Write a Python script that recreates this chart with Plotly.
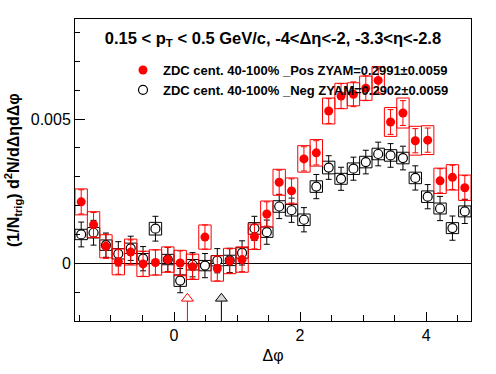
import numpy as np
import plotly.graph_objects as go

# ---- data (values in units of 1e-3) ----
n_bins = 32
dphi_lo, dphi_hi = -np.pi / 2, 3 * np.pi / 2
dphi = dphi_lo + (np.arange(n_bins) + 0.5) * (dphi_hi - dphi_lo) / n_bins
bin_width = (dphi_hi - dphi_lo) / n_bins

pos_vals = [2.13, 1.34, 0.59, 0.05, 0.39, -0.02, 0.03, 0.13, 0.01, -0.12, 0.91, -0.18,
            0.08, 0.13, 0.92, 1.71, 2.81, 2.51, 3.62, 3.83, 5.28, 5.80, 5.86, 6.07,
            6.34, 4.90, 5.21, 4.25, 4.27, 2.86, 2.98, 2.62]
pos_stat = [0.42, 0.42, 0.42, 0.43, 0.42, 0.43, 0.43, 0.42, 0.42, 0.42, 0.42, 0.43,
            0.42, 0.42, 0.42, 0.42, 0.42, 0.42, 0.42, 0.42, 0.43, 0.43, 0.43, 0.43,
            0.43, 0.43, 0.43, 0.42, 0.42, 0.42, 0.42, 0.42]
pos_sys = [0.45, 0.45, 0.40, 0.45, 0.45, 0.44, 0.44, 0.44, 0.44, 0.44, 0.42, 0.44,
           0.44, 0.44, 0.44, 0.45, 0.45, 0.45, 0.46, 0.46, 0.45, 0.44, 0.40, 0.42,
           0.48, 0.50, 0.52, 0.50, 0.50, 0.44, 0.44, 0.44]

neg_vals = [1.00, 1.06, 0.63, 0.33, 0.52, 0.16, 1.20, 0.13, -0.60, -0.05, -0.08, 0.09,
            0.10, 0.36, 1.21, 1.08, 1.97, 1.84, 1.51, 2.66, 3.32, 2.93, 3.28, 3.51,
            3.79, 3.74, 3.65, 2.96, 2.31, 1.90, 1.22, 1.80]
neg_stat = [0.43, 0.43, 0.42, 0.42, 0.42, 0.42, 0.43, 0.42, 0.42, 0.42, 0.42, 0.42,
            0.42, 0.42, 0.42, 0.42, 0.42, 0.42, 0.42, 0.42, 0.41, 0.40, 0.40, 0.41,
            0.41, 0.41, 0.41, 0.42, 0.42, 0.42, 0.42, 0.42]
neg_sys = [0.18, 0.18, 0.18, 0.18, 0.18, 0.18, 0.22, 0.18, 0.20, 0.18, 0.18, 0.18,
           0.18, 0.18, 0.20, 0.18, 0.20, 0.20, 0.20, 0.20, 0.22, 0.19, 0.20, 0.20,
           0.20, 0.20, 0.20, 0.20, 0.20, 0.19, 0.19, 0.19]

zyam_x = [0.213, 0.752]          # ZYAM minimum positions (arrows)
arrow_colors = ["red", "black"]
arrow_fills = ["white", "#d9d9d9"]
arrow_y_center = -1.22           # arrow head (1e-3)
arrow_y_base = -1.32

pos_name = "ZDC cent. 40-100% _Pos ZYAM=0.2991\u00b10.0059"
neg_name = "ZDC cent. 40-100% _Neg ZYAM=0.2902\u00b10.0059"

y_tickvals = [0, 0.005]
y_ticktext = ["0", "0.005"]

scale = 1e-3
pv = np.array(pos_vals) * scale
ps = np.array(pos_stat) * scale
psy = np.array(pos_sys) * scale
nv = np.array(neg_vals) * scale
ns = np.array(neg_stat) * scale
nsy = np.array(neg_sys) * scale

FONT = "Liberation Sans, Arial, Helvetica, sans-serif"
W, H = 496, 374


def box_path(centers, vals, sys, width):
    xs, ys = [], []
    for c, v, s in zip(centers, vals, sys):
        x0, x1 = c - width / 2, c + width / 2
        xs += [x0, x1, x1, x0, x0, None]
        ys += [v - s, v - s, v + s, v + s, v - s, None]
    return xs, ys


fig = go.Figure()

# systematic boxes + points
bx, by = box_path(dphi, nv, nsy, bin_width)
fig.add_trace(go.Scatter(x=bx, y=by, mode="lines", line=dict(color="black", width=1),
                         showlegend=False, hoverinfo="skip"))
fig.add_trace(go.Scatter(x=dphi, y=nv, mode="markers", name=neg_name, legendrank=2,
                         marker=dict(symbol="circle", size=9, color="white",
                                     line=dict(color="black", width=1.2)),
                         error_y=dict(type="data", array=ns, color="black",
                                      thickness=1, width=3)))
bx, by = box_path(dphi, pv, psy, bin_width)
fig.add_trace(go.Scatter(x=bx, y=by, mode="lines", line=dict(color="red", width=1),
                         showlegend=False, hoverinfo="skip"))
fig.add_trace(go.Scatter(x=dphi, y=pv, mode="markers", name=pos_name, legendrank=1,
                         marker=dict(symbol="circle", size=9, color="red",
                                     line=dict(width=0)),
                         error_y=dict(type="data", array=ps, color="red",
                                      thickness=1, width=3)))

# ZYAM arrows
for xa, c, f in zip(zyam_x, arrow_colors, arrow_fills):
    fig.add_trace(go.Scatter(x=[xa, xa], y=[arrow_y_base * scale, -2.0e-3],
                             mode="lines", line=dict(color=c, width=1),
                             showlegend=False, hoverinfo="skip"))
    fig.add_trace(go.Scatter(x=[xa], y=[arrow_y_center * scale], mode="markers",
                             marker=dict(symbol="triangle-up", size=10.4, color=f,
                                         line=dict(color=c, width=1)),
                             showlegend=False, hoverinfo="skip"))

fig.update_layout(
    width=W, height=H,
    margin=dict(l=75, r=25, t=19, b=53, autoexpand=False),
    paper_bgcolor="white", plot_bgcolor="white",
    font=dict(family=FONT, size=16, color="black"),
    title=dict(text="0.15 &lt; p<sub>T</sub> &lt; 0.5 GeV/c, -4&lt;\u0394\u03b7&lt;-2, -3.3&lt;\u03b7&lt;-2.8",
               x=0.5, xref="paper", xanchor="center",
               y=1 - 38 / H, yref="container", yanchor="middle",
               font=dict(family=FONT, size=16.5, weight="bold", color="black")),
    legend=dict(x=(123 - 75) / 396, y=1 - 36 / 302, xanchor="left", yanchor="top",
                bgcolor="rgba(0,0,0,0)", borderwidth=0,
                font=dict(family=FONT, size=13, weight="bold", color="black"),
                traceorder="normal"),
    showlegend=True,
)

fig.update_xaxes(range=[dphi_lo, dphi_hi], showgrid=False, zeroline=False,
                 automargin=False,
                 showline=True, linecolor="black", linewidth=1, mirror=True,
                 ticks="inside", ticklen=9, tickcolor="black", tick0=0, dtick=2,
                 minor=dict(ticks="inside", ticklen=6, dtick=0.5, tick0=0,
                            tickcolor="black", showgrid=False),
                 tickfont=dict(family=FONT, size=16),
                 title=dict(text="\u0394\u03c6", font=dict(family=FONT, size=16),
                            standoff=6))
fig.update_yaxes(range=[-2.0e-3, 8.47e-3], showgrid=False, automargin=False,
                 zeroline=True, zerolinecolor="black", zerolinewidth=1,
                 showline=True, linecolor="black", linewidth=1, mirror=True,
                 ticks="inside", ticklen=10, tickcolor="black",
                 tickmode="array", tickvals=y_tickvals, ticktext=y_ticktext,
                 minor=dict(ticks="inside", ticklen=5, dtick=0.001, tick0=0,
                            tickcolor="black", showgrid=False),
                 tickfont=dict(family=FONT, size=16))

fig.add_annotation(text="(1/N<sub>trig</sub>) d<sup>2</sup>N/d\u0394\u03b7d\u0394\u03c6",
                   xref="paper", yref="paper", x=(13 - 75) / 396, y=0.5,
                   xanchor="center", yanchor="middle", textangle=-90, showarrow=False,
                   font=dict(family=FONT, size=16, weight="bold", color="black"))

fig.write_html("out.html", config={"displayModeBar": False},
               post_script="document.body.style.margin='0';document.body.style.overflow='hidden';")
